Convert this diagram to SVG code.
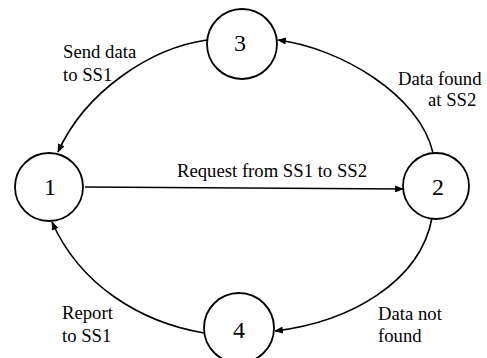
<svg xmlns="http://www.w3.org/2000/svg" width="487" height="358" viewBox="0 0 487 358">
<style>
.node circle{fill:#fff;stroke:#000;stroke-width:1.8}
text{font-family:'Liberation Serif','DejaVu Serif',serif;fill:#000}
.num{font-size:24px;text-anchor:middle}
.lbl{font-size:18.7px}
.edge{fill:none;stroke:#000;stroke-width:1.6}
</style>
<defs>
<marker id="arr" viewBox="0 0 10 8" refX="9" refY="4" markerWidth="9" markerHeight="7" markerUnits="userSpaceOnUse" orient="auto">
<path d="M0,0 L10,4 L0,8 z" fill="#000"/>
</marker>
</defs>
<rect width="487" height="358" fill="#fff"/>
<g id="connectors">
<path class="edge" d="M85,187 L403,189" marker-end="url(#arr)"/>
<path class="edge" d="M433,153 C420,95 340,48 278,40" marker-end="url(#arr)"/>
<path class="edge" d="M207,40 C150,48 85,92 58,152" marker-end="url(#arr)"/>
<path class="edge" d="M432,218 C420,282 350,322 275,331" marker-end="url(#arr)"/>
<path class="edge" d="M204,333 C140,322 80,285 52,222" marker-end="url(#arr)"/>
</g>
<g id="node1" class="node"><circle cx="49" cy="187" r="34"/><text class="num" x="50" y="195">1</text></g>
<g id="node2" class="node"><circle cx="436" cy="186" r="33"/><text class="num" x="438" y="195">2</text></g>
<g id="node3" class="node"><circle cx="242" cy="44" r="35"/><text class="num" x="240" y="51">3</text></g>
<g id="node4" class="node"><circle cx="239" cy="328" r="35"/><text class="num" x="239" y="338">4</text></g>
<g id="labels">
<text class="lbl" x="63" y="58">Send data</text>
<text class="lbl" x="63" y="81">to SS1</text>
<text class="lbl" x="398" y="85">Data found</text>
<text class="lbl" x="428" y="106">at SS2</text>
<text class="lbl" x="177" y="177">Request from SS1 to SS2</text>
<text class="lbl" x="62" y="319">Report</text>
<text class="lbl" x="62" y="342">to SS1</text>
<text class="lbl" x="378" y="320">Data not</text>
<text class="lbl" x="378" y="342">found</text>
</g>
</svg>
